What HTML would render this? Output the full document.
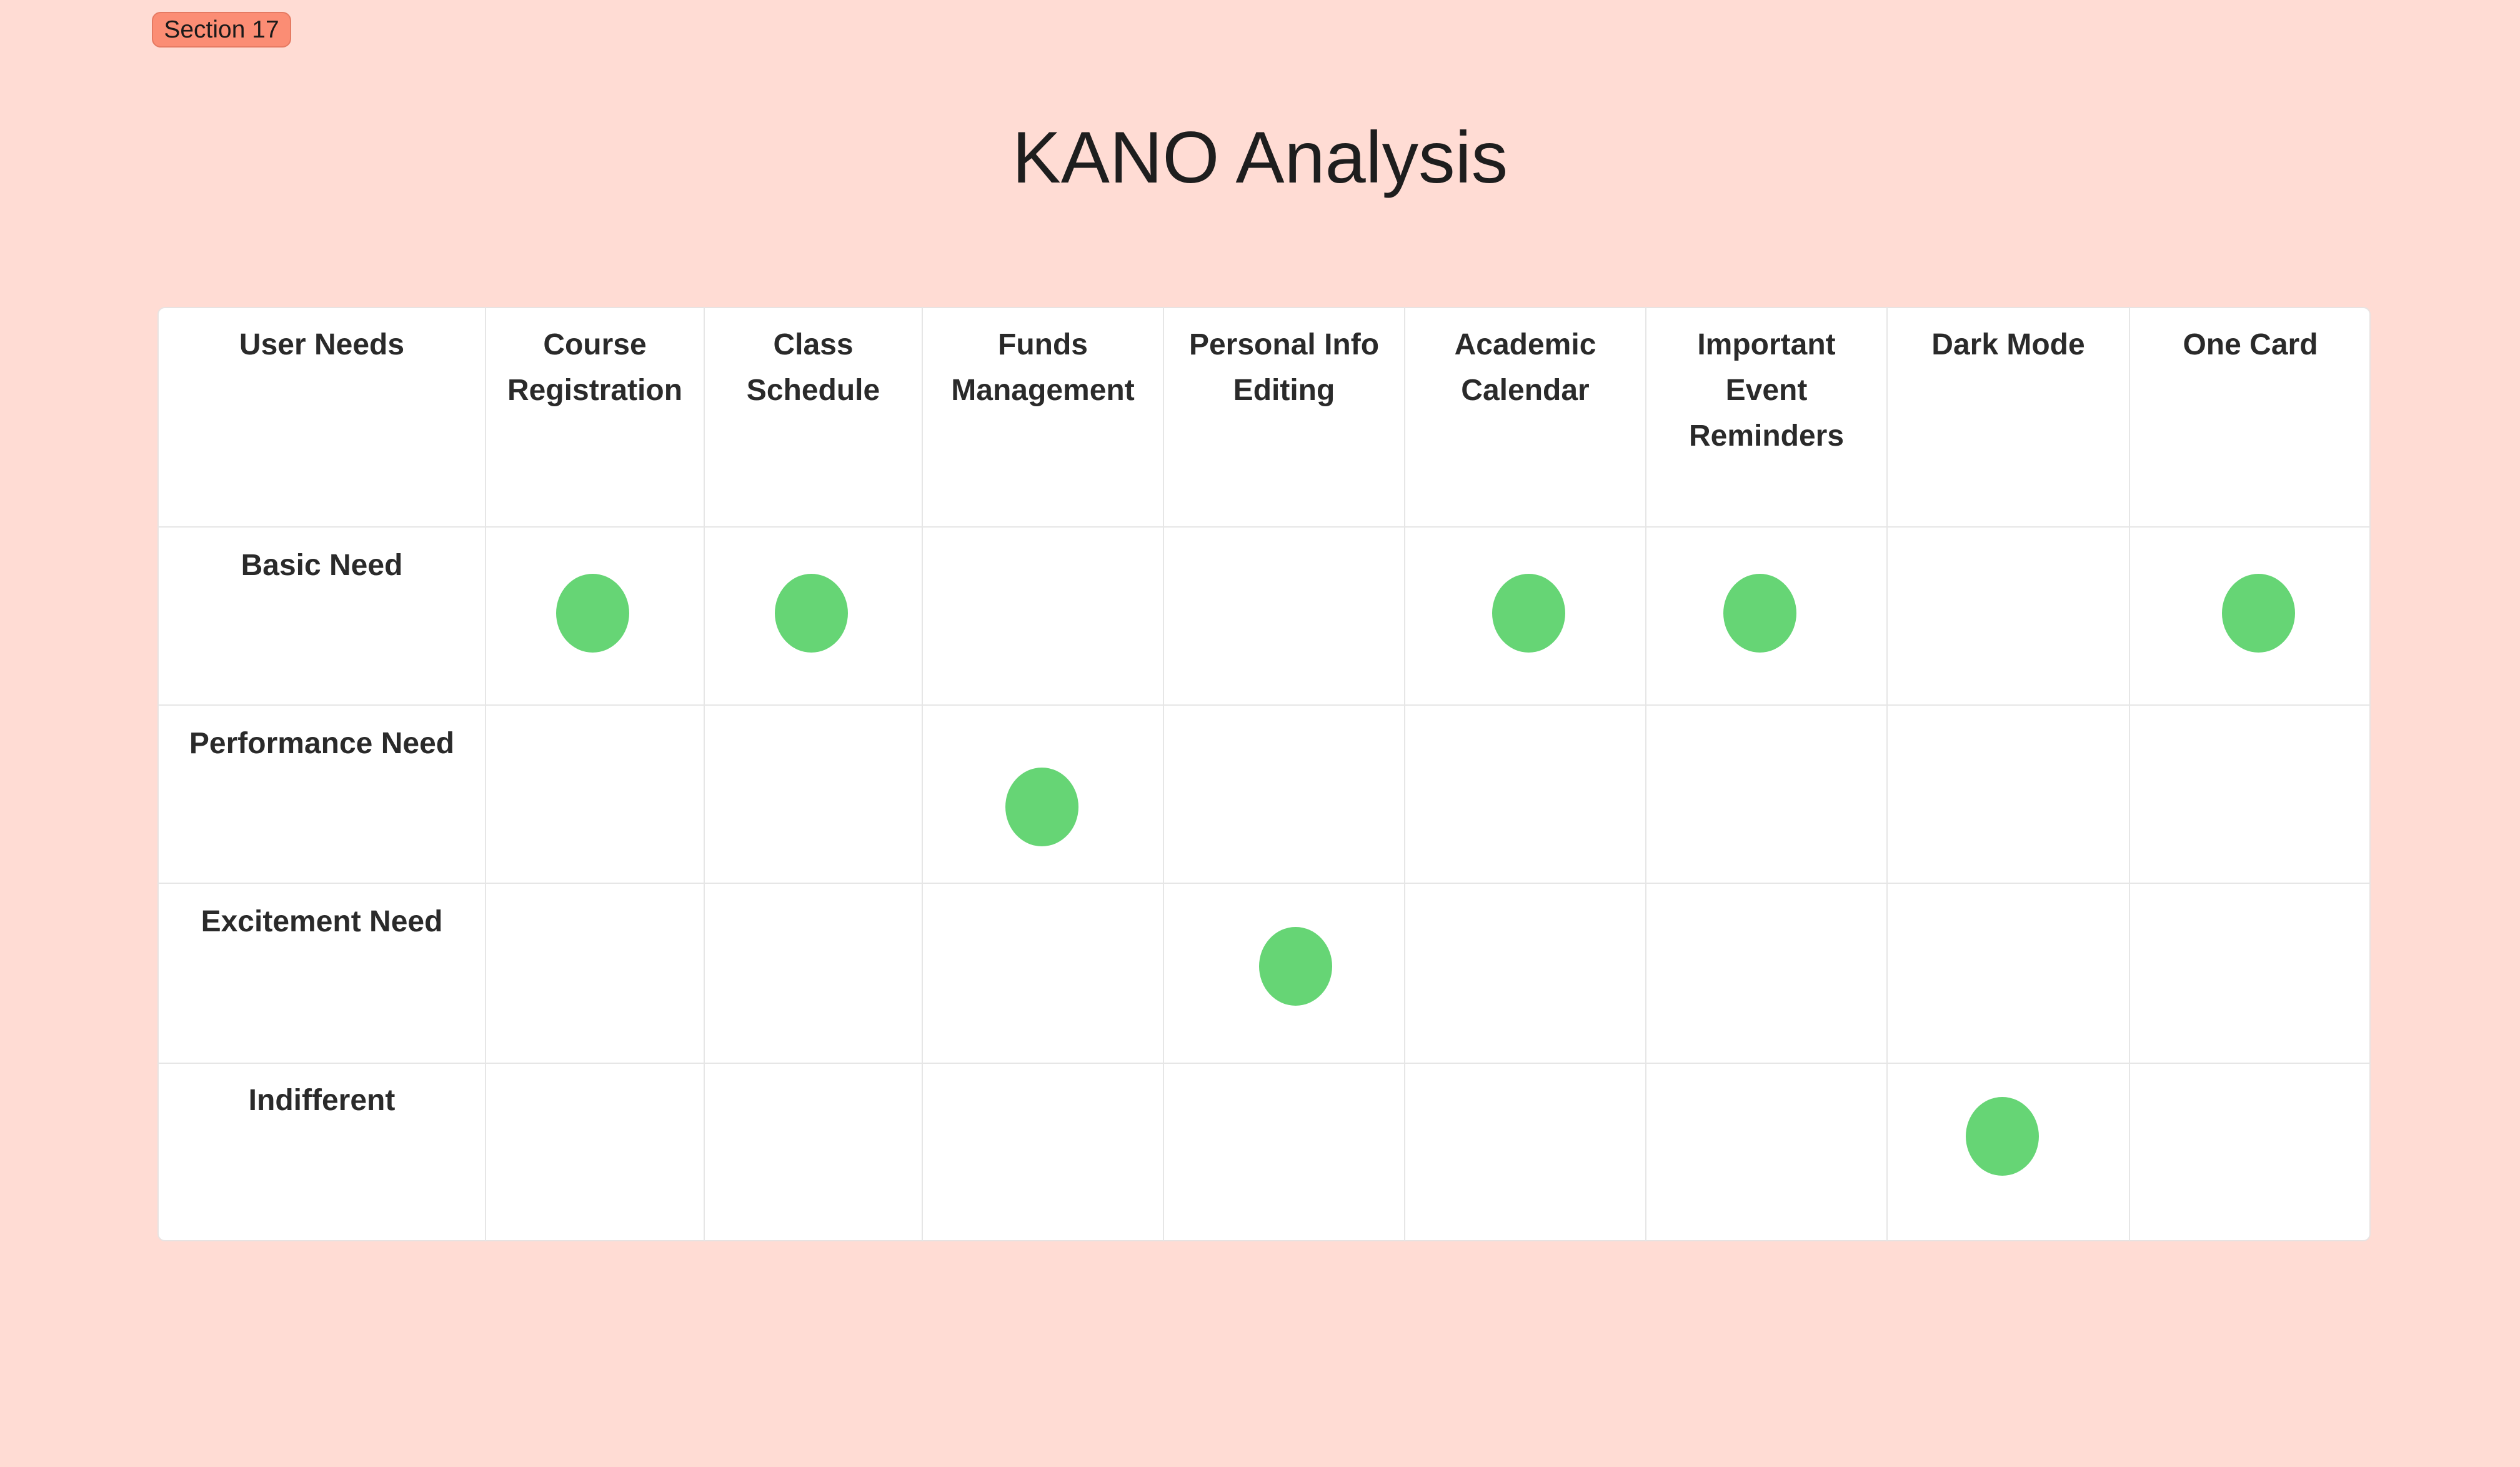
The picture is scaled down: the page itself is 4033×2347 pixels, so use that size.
<!DOCTYPE html>
<html><head><meta charset="utf-8"><style>
html,body{margin:0;padding:0}
body{width:4033px;height:2347px;background:#ffdcd4;position:relative;overflow:hidden;font-family:"Liberation Sans",Arial,sans-serif}
.badge{position:absolute;left:243px;top:19px;width:223px;height:57px;background:#fb8d74;border:2px solid #e57a62;border-radius:14px;box-sizing:border-box;font-size:39px;color:#1a1a1a;line-height:53px;text-align:center}
.title{position:absolute;left:0;width:4033px;top:184px;text-align:center;font-size:117px;color:#1e1e1e}
.tbl{position:absolute;left:252px;top:491px;width:3542px;height:1495px;background:#fff;border:2px solid #e8e3e2;border-radius:12px;box-sizing:border-box}
.v{position:absolute;top:491px;height:1495px;width:2px;background:#e6e6e6}
.h{position:absolute;left:252px;width:3542px;height:2px;background:#e6e6e6}
.t{position:absolute;text-align:center;font-weight:bold;font-size:48px;line-height:73px;color:#2a2a2a}
.d{position:absolute;width:117px;height:126px;border-radius:50%;background:#66d575}
</style></head><body>
<div class="badge">Section 17</div>
<div class="title">KANO Analysis</div>
<div class="tbl"></div>
<div class="v" style="left:776px"></div>
<div class="v" style="left:1126px"></div>
<div class="v" style="left:1475px"></div>
<div class="v" style="left:1861px"></div>
<div class="v" style="left:2247px"></div>
<div class="v" style="left:2633px"></div>
<div class="v" style="left:3019px"></div>
<div class="v" style="left:3407px"></div>
<div class="h" style="top:842px"></div>
<div class="h" style="top:1127px"></div>
<div class="h" style="top:1412px"></div>
<div class="h" style="top:1700px"></div>

<div class="t" style="left:254px;width:522px;top:515px">User Needs</div>
<div class="t" style="left:778px;width:348px;top:515px">Course<br>Registration</div>
<div class="t" style="left:1128px;width:347px;top:515px">Class<br>Schedule</div>
<div class="t" style="left:1477px;width:384px;top:515px">Funds<br>Management</div>
<div class="t" style="left:1863px;width:384px;top:515px">Personal Info<br>Editing</div>
<div class="t" style="left:2249px;width:384px;top:515px">Academic<br>Calendar</div>
<div class="t" style="left:2635px;width:384px;top:515px">Important<br>Event<br>Reminders</div>
<div class="t" style="left:3021px;width:386px;top:515px">Dark Mode</div>
<div class="t" style="left:3409px;width:385px;top:515px">One Card</div>

<div class="t" style="left:254px;width:522px;top:868px">Basic Need</div>
<div class="t" style="left:254px;width:522px;top:1153px">Performance Need</div>
<div class="t" style="left:254px;width:522px;top:1438px">Excitement Need</div>
<div class="t" style="left:254px;width:522px;top:1724px">Indifferent</div>

<div class="d" style="left:890px;top:918px"></div>
<div class="d" style="left:1240px;top:918px"></div>
<div class="d" style="left:2388px;top:918px"></div>
<div class="d" style="left:2758px;top:918px"></div>
<div class="d" style="left:3556px;top:918px"></div>
<div class="d" style="left:1609px;top:1228px"></div>
<div class="d" style="left:2015px;top:1483px"></div>
<div class="d" style="left:3146px;top:1755px"></div>
</body></html>
